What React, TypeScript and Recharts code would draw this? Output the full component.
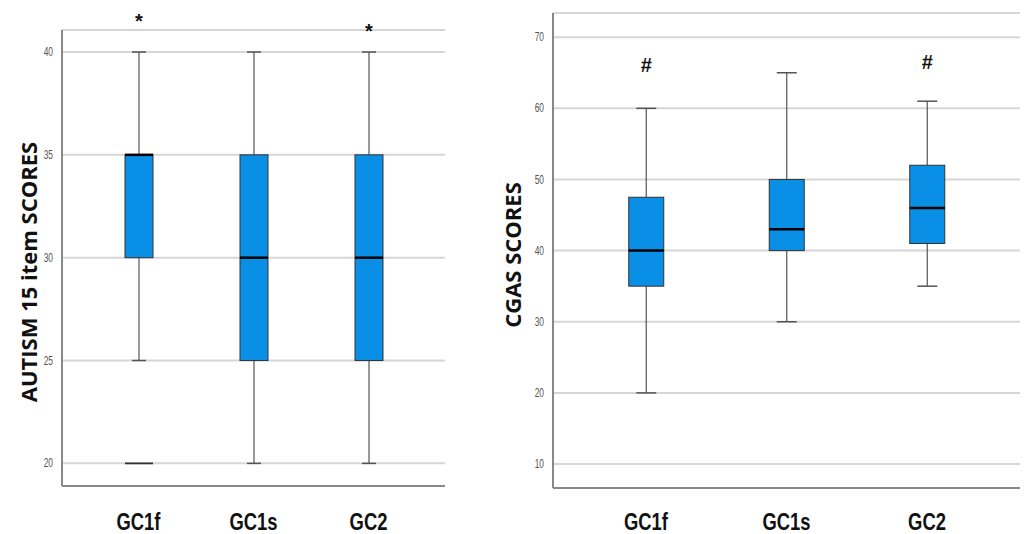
import React from "react";
import { ComposedChart, Bar, XAxis, YAxis, CartesianGrid } from "recharts";

const categories = ["GC1f", "GC1s", "GC2"];

const autismMin = [25, 20, 20];
const autismQ1 = [30, 25, 25];
const autismMedian = [35, 30, 30];
const autismQ3 = [35, 35, 35];
const autismMax = [40, 40, 40];
const autismOutliers: (number | null)[] = [20, null, null];
const autismMarks = ["*", "", "*"];
const autismMarkValues: (number | null)[] = [41.5, null, 41.0];
const autismTicks = [20, 25, 30, 35, 40];

const cgasMin = [20, 30, 35];
const cgasQ1 = [35, 40, 41];
const cgasMedian = [40, 43, 46];
const cgasQ3 = [47.5, 50, 52];
const cgasMax = [60, 65, 61];
const cgasOutliers: (number | null)[] = [null, null, null];
const cgasMarks = ["#", "", "#"];
const cgasMarkValues: (number | null)[] = [66.1, null, 66.5];
const cgasTicks = [10, 20, 30, 40, 50, 60, 70];

const build = (
  mn: number[], q1: number[], md: number[], q3: number[], mx: number[],
  out: (number | null)[], marks: string[], markVals: (number | null)[]
) =>
  categories.map((c, i) => ({
    name: c,
    range: [mn[i], mx[i]],
    min: mn[i], q1: q1[i], median: md[i], q3: q3[i], max: mx[i],
    outlier: out[i], mark: marks[i], markValue: markVals[i],
  }));

const autismData = build(autismMin, autismQ1, autismMedian, autismQ3, autismMax, autismOutliers, autismMarks, autismMarkValues);
const cgasData = build(cgasMin, cgasQ1, cgasMedian, cgasQ3, cgasMax, cgasOutliers, cgasMarks, cgasMarkValues);

const BOX_FILL = "#0a8fe6";

const makeBoxShape = (capWidth: number, markSize: number) => (props: any) => {
  const { x, y, width, height, payload } = props;
  if (x == null || y == null) return <g />;
  const top = Math.min(y, y + height);
  const bottom = Math.max(y, y + height);
  const { min, max, q1, median, q3, outlier, mark, markValue } = payload;
  const px = (v: number) => top + ((max - v) * (bottom - top)) / (max - min);
  const cx = x + width / 2;
  const yQ1 = px(q1);
  const yQ3 = px(q3);
  const yMed = px(median);
  return (
    <g>
      <line x1={cx} x2={cx} y1={top} y2={yQ3} stroke="#555" strokeWidth={1.2} />
      <line x1={cx} x2={cx} y1={yQ1} y2={bottom} stroke="#555" strokeWidth={1.2} />
      <line x1={cx - capWidth / 2} x2={cx + capWidth / 2} y1={top} y2={top} stroke="#555" strokeWidth={1.5} />
      <line x1={cx - capWidth / 2} x2={cx + capWidth / 2} y1={bottom} y2={bottom} stroke="#555" strokeWidth={1.5} />
      <rect x={x} y={yQ3} width={width} height={yQ1 - yQ3} fill={BOX_FILL} stroke="#333" strokeWidth={1} />
      <line x1={x} x2={x + width} y1={yMed} y2={yMed} stroke="#000" strokeWidth={2.5} />
      {outlier != null && (
        <line x1={x} x2={x + width} y1={px(outlier)} y2={px(outlier)} stroke="#333" strokeWidth={1.8} />
      )}
      {mark && markValue != null && (
        <text x={cx} y={px(markValue)} textAnchor="middle" dominantBaseline="central"
          fontFamily="'Liberation Sans', sans-serif" fontWeight="bold" fontSize={markSize} fill="#111">{mark}</text>
      )}
    </g>
  );
};

const NumTick = (props: any) => {
  const { x, y, payload } = props;
  return (
    <text transform={`translate(${x},${y}) scale(0.7,1)`} textAnchor="end" dominantBaseline="central"
      fontFamily="'Liberation Sans Narrow', 'Liberation Sans', sans-serif" fontSize={12} fill="#555">
      {payload.value}
    </text>
  );
};

const CatTick = (props: any) => {
  const { x, y, payload } = props;
  return (
    <text transform={`translate(${x},${y}) scale(0.8,1)`} dy="0.71em" textAnchor="middle"
      fontFamily="'Liberation Sans', sans-serif" fontWeight="bold" fontSize={23} fill="#111">
      {payload.value}
    </text>
  );
};

const yLabel = (text: string, cx: number, dyc: number) => (props: any) => {
  const vb = props.viewBox || {};
  const cy = vb.y + vb.height / 2 + dyc;
  return (
    <text x={cx} y={cy} transform={`rotate(-90, ${cx}, ${cy})`} textAnchor="middle" dominantBaseline="central"
      fontFamily="'Open Sans', sans-serif" fontWeight="bold" fontSize={22} fill="#111">
      {text}
    </text>
  );
};

export default function App() {
  return (
    <div style={{ position: "absolute", left: 0, top: 0, width: 1026, height: 534, background: "#fff" }}>
      <div style={{ position: "absolute", left: 0, top: 0 }}>
        <ComposedChart width={450} height={534} data={autismData}
          margin={{ top: 30, right: 5, bottom: 0, left: 40 }}>
          <CartesianGrid horizontal vertical={false} stroke="#d6d6d6" strokeWidth={2} />
          <XAxis dataKey="name" axisLine={{ stroke: "#888", strokeWidth: 2 }} tickLine={false}
            height={48} tickMargin={22} padding={{ left: 19, right: 19 }} tick={<CatTick />} interval={0} />
          <YAxis type="number" domain={[18.9, 41.07]} ticks={autismTicks} width={22}
            axisLine={{ stroke: "#888", strokeWidth: 2 }} tickLine={false} tickMargin={3} tick={<NumTick />}
            label={{ content: yLabel("AUTISM 15 item SCORES", 28, 14) }} />
          <Bar dataKey="range" barSize={28} isAnimationActive={false} shape={makeBoxShape(14, 20)} />
        </ComposedChart>
      </div>
      <div style={{ position: "absolute", left: 470, top: 0 }}>
        <ComposedChart width={556} height={534} data={cgasData}
          margin={{ top: 13, right: 6, bottom: 0, left: 58 }}>
          <CartesianGrid horizontal vertical={false} stroke="#d6d6d6" strokeWidth={2} />
          <XAxis dataKey="name" axisLine={{ stroke: "#888", strokeWidth: 2 }} tickLine={false}
            height={46} tickMargin={20} padding={{ left: 22.75, right: 22.75 }} tick={<CatTick />} interval={0} />
          <YAxis type="number" domain={[6.63, 73.4]} ticks={cgasTicks} width={25}
            axisLine={{ stroke: "#888", strokeWidth: 2 }} tickLine={false} tickMargin={3} tick={<NumTick />}
            label={{ content: yLabel("CGAS SCORES", 42, 4.5) }} />
          <Bar dataKey="range" barSize={35} isAnimationActive={false} shape={makeBoxShape(20, 20)} />
        </ComposedChart>
      </div>
    </div>
  );
}
